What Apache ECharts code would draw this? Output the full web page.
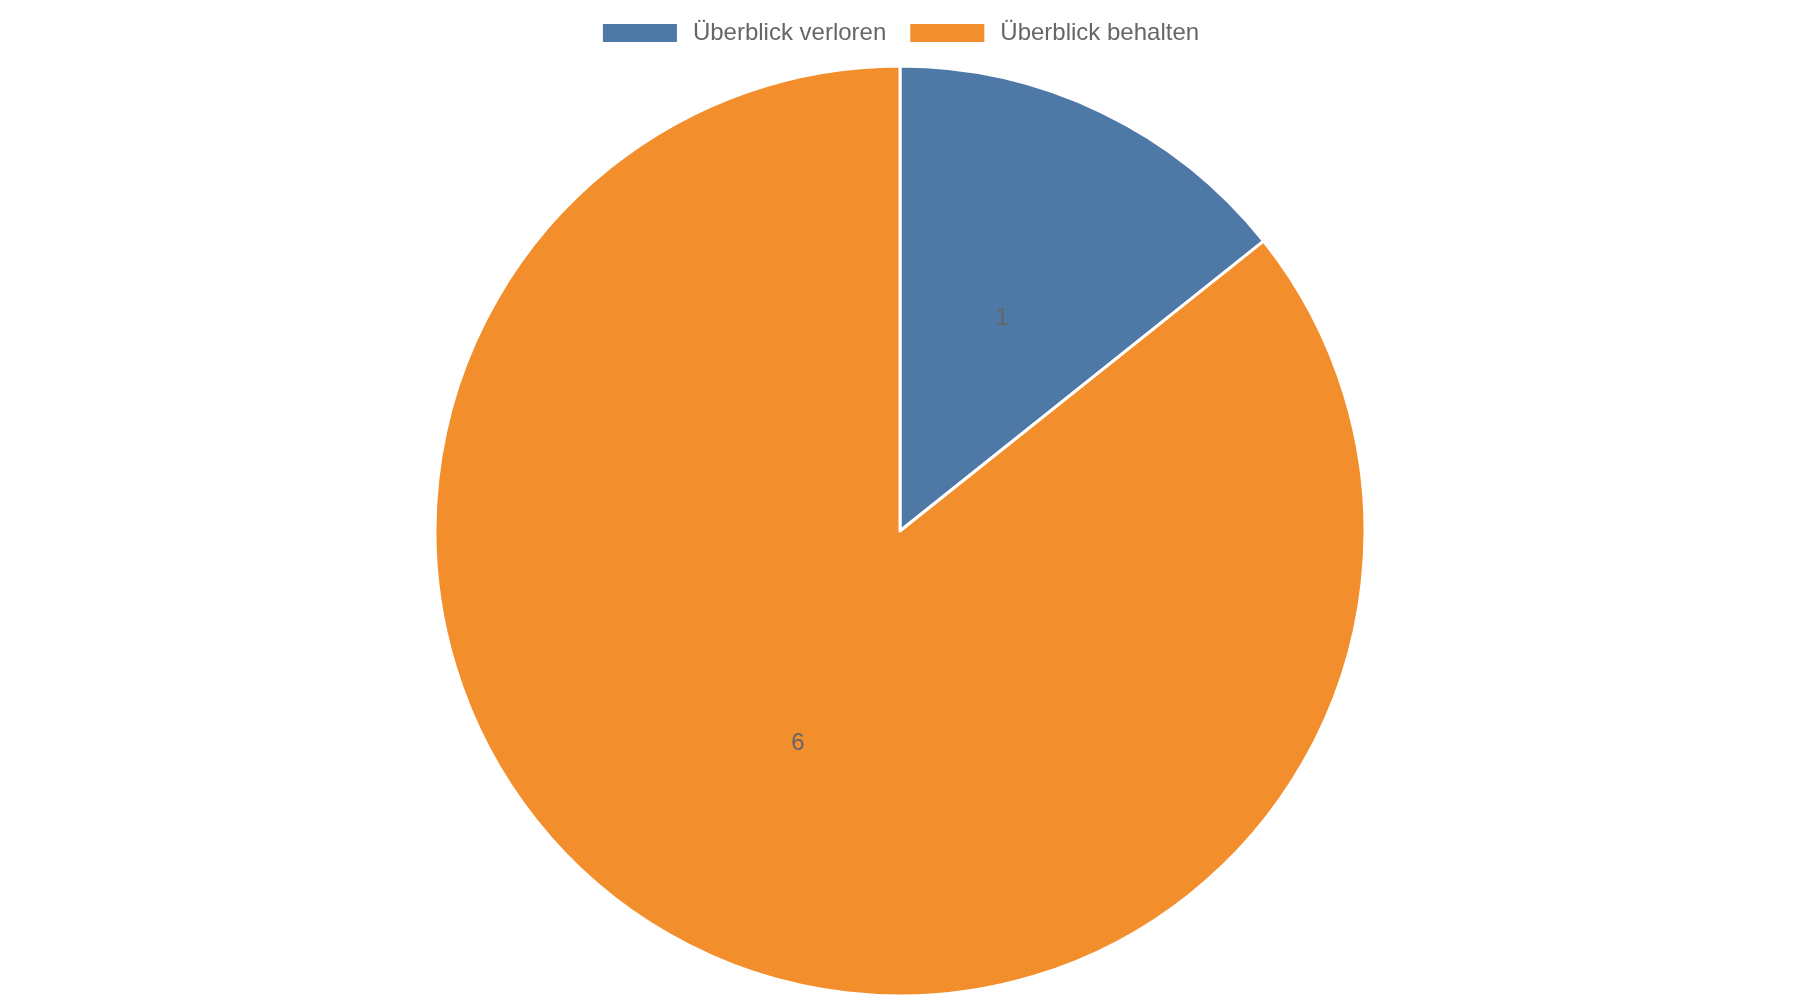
<!DOCTYPE html>
<html>
<head>
<meta charset="utf-8">
<script src="https://cdn.jsdelivr.net/npm/echarts@6/dist/echarts.min.js"></script>
<style>
  html, body { margin: 0; padding: 0; background: #fff; }
  #chart { width: 1800px; height: 1000px; }
</style>
</head>
<body>
<div id="chart"></div>
<script>
var categories = ['Überblick verloren', 'Überblick behalten']
var values = [1, 6]
var colors = ['#4e79a7', '#f28e2b']

var chart = echarts.init(document.getElementById('chart'))

var option = {
  animation: false,
  color: colors,
  legend: {
    data: categories,
    icon: 'rect',
    top: 16,
    left: 'center',
    itemWidth: 76,
    itemHeight: 20,
    itemGap: 22,
    textStyle: {
      fontFamily: 'Liberation Sans',
      fontSize: 24,
      color: '#666',
      padding: [0, 0, 0, 10]
    }
  },
  series: [{
    type: 'pie',
    center: [900, 531],
    radius: 465,
    startAngle: 90,
    clockwise: true,
    data: categories.map(function (name, i) {
      return { name: name, value: values[i] }
    }),
    itemStyle: {
      borderColor: '#fff',
      borderWidth: 3
    },
    label: {
      show: true,
      position: 'inside',
      formatter: '{c}',
      fontFamily: 'Liberation Sans',
      fontSize: 24,
      color: '#666',
      padding: [6, 0, 0, 0]
    },
    labelLine: { show: false },
    emphasis: { disabled: true }
  }]
}

chart.setOption(option)
</script>
</body>
</html>
